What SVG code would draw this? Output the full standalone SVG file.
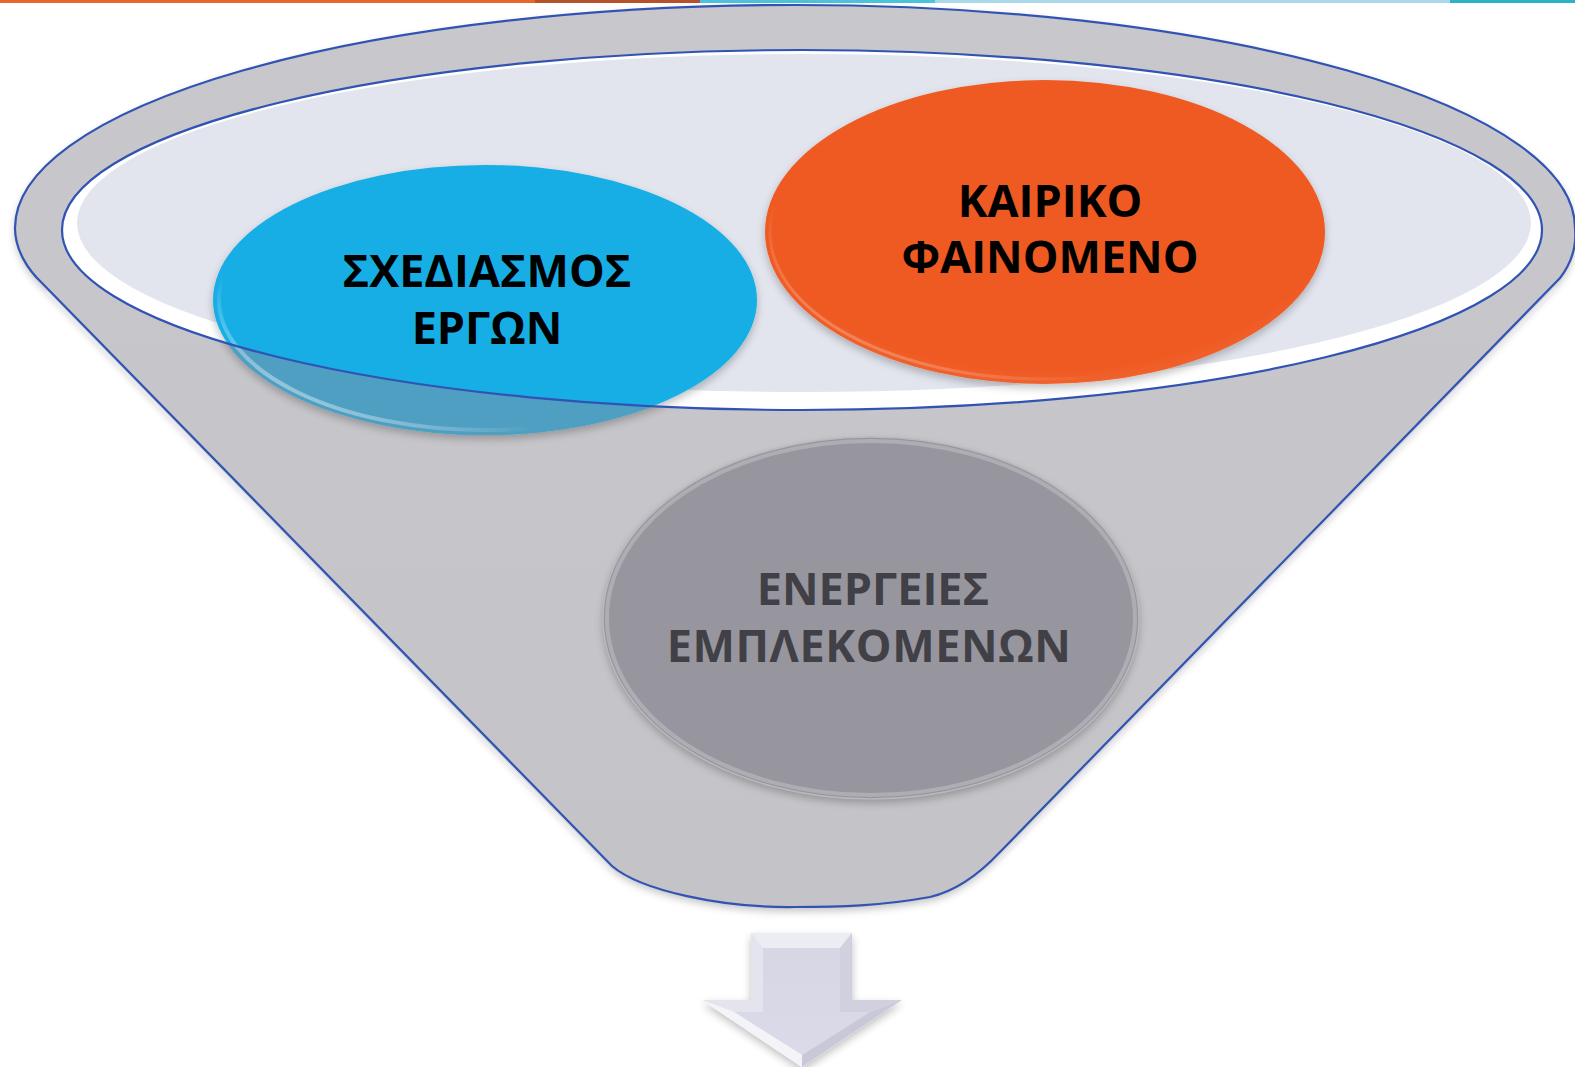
<svg xmlns="http://www.w3.org/2000/svg" width="1575" height="1067" viewBox="0 0 1575 1067">
  <style>
    .lbl { font-family: "Open Sans", "Noto Sans", "Liberation Sans", sans-serif; font-weight: 700; font-size: 45px; text-anchor: middle; }
    .dark { fill: #000000; }
    .grey { fill: #404046; }
    .outline { fill: none; stroke: #3153b3; stroke-width: 2.2; }
  </style>
  <defs>
    <linearGradient id="funnelGrad" x1="0" y1="0" x2="0" y2="1">
      <stop offset="0" stop-color="#c8c8cc"/>
      <stop offset="1" stop-color="#c4c4c8"/>
    </linearGradient>
    <radialGradient id="blueGrad" cx="0.5" cy="0.45" r="0.6">
      <stop offset="0.85" stop-color="#14aee5"/>
      <stop offset="1" stop-color="#2bb6e6"/>
    </radialGradient>
    <radialGradient id="orangeGrad" cx="0.5" cy="0.45" r="0.6">
      <stop offset="0.85" stop-color="#ef5a24"/>
      <stop offset="1" stop-color="#f26d3a"/>
    </radialGradient>
    <linearGradient id="rimLight" x1="0" y1="1" x2="1" y2="0">
      <stop offset="0" stop-color="#ffffff" stop-opacity="0.75"/>
      <stop offset="0.3" stop-color="#ffffff" stop-opacity="0"/>
      <stop offset="0.85" stop-color="#ffffff" stop-opacity="0"/>
      <stop offset="1" stop-color="#ffffff" stop-opacity="0.35"/>
    </linearGradient>
    <linearGradient id="arrowGrad" x1="0" y1="0" x2="0" y2="1">
      <stop offset="0" stop-color="#d6d6e4"/>
      <stop offset="1" stop-color="#dadae8"/>
    </linearGradient>
    <clipPath id="outsideInner">
      <path clip-rule="evenodd" d="M0 0 H1575 V1067 H0 Z M62 230 A740 180 0 1 0 1542 230 A740 180 0 1 0 62 230 Z"/>
    </clipPath>
    <filter id="soft" x="-10%" y="-10%" width="120%" height="130%">
      <feGaussianBlur in="SourceAlpha" stdDeviation="4"/>
      <feOffset dx="0" dy="4" result="b"/>
      <feComponentTransfer><feFuncA type="linear" slope="0.25"/></feComponentTransfer>
      <feMerge><feMergeNode/><feMergeNode in="SourceGraphic"/></feMerge>
    </filter>
  </defs>

  <rect x="0" y="0" width="1575" height="1067" fill="#ffffff"/>

  <!-- top colour bar -->
  <g id="topbar">
    <rect x="0" y="0" width="535" height="3" fill="#e8662a"/>
    <rect x="535" y="0" width="165" height="3" fill="#b4532b"/>
    <rect x="700" y="0" width="235" height="3" fill="#4cc3dc"/>
    <rect x="935" y="0" width="515" height="3" fill="#aad9ec"/>
    <rect x="1450" y="0" width="125" height="3" fill="#2fb1c9"/>
  </g>

  <!-- funnel -->
  <g id="funnel">
    <path filter="url(#soft)" fill="url(#funnelGrad)" d="M15 228 A780 223 0 0 1 1575 228 C1577 248 1570 265 1560 278 L1000 852 C985 868 960 890 930 897 C880 906 840 907 795 907 C720 908 640 890 612 866 L42 283 C28 270 15 250 15 228 Z"/>
    <path fill="none" stroke="#eeeef2" stroke-width="3" opacity="0.8" d="M46 292 L614 874 M1556 288 L998 862"/>
    <path class="outline" d="M15 228 A780 223 0 0 1 1575 228 C1577 248 1570 265 1560 278 L1000 852 C985 868 960 890 930 897 C880 906 840 907 795 907 C720 908 640 890 612 866 L42 283 C28 270 15 250 15 228 Z"/>
    <!-- bowl opening -->
    <ellipse cx="802" cy="230" rx="740" ry="180" fill="#ffffff"/>
    <ellipse cx="804" cy="223" rx="727" ry="169" fill="#e2e5ee"/>
  </g>

  <!-- node: ΣΧΕΔΙΑΣΜΟΣ ΕΡΓΩΝ -->
  <g id="node-sxediasmos">
    <ellipse cx="485" cy="300" rx="272" ry="135" fill="url(#blueGrad)" filter="url(#soft)"/>
    <ellipse cx="485" cy="300" rx="272" ry="135" fill="#4f9fc3" clip-path="url(#outsideInner)"/>
    <ellipse cx="485" cy="300" rx="266" ry="130" fill="none" stroke="url(#rimLight)" stroke-width="4"/>
    <text class="lbl dark" x="487" y="287">ΣΧΕΔΙΑΣΜΟΣ</text>
    <text class="lbl dark" x="487" y="344">ΕΡΓΩΝ</text>
  </g>

  <!-- node: ΚΑΙΡΙΚΟ ΦΑΙΝΟΜΕΝΟ -->
  <g id="node-kairiko">
    <ellipse cx="1045" cy="232" rx="280" ry="152" fill="url(#orangeGrad)" filter="url(#soft)"/>
    <ellipse cx="1045" cy="232" rx="275" ry="147" fill="none" stroke="url(#rimLight)" stroke-width="3" opacity="0.6"/>
    <text class="lbl dark" x="1050" y="217">ΚΑΙΡΙΚΟ</text>
    <text class="lbl dark" x="1050" y="273">ΦΑΙΝΟΜΕΝΟ</text>
  </g>

  <!-- bowl rim outline drawn over nodes -->
  <ellipse class="outline" cx="802" cy="230" rx="740" ry="180"/>

  <!-- node: ΕΝΕΡΓΕΙΕΣ ΕΜΠΛΕΚΟΜΕΝΩΝ -->
  <g id="node-energeies">
    <ellipse cx="871" cy="618" rx="268" ry="181" fill="#97969e" filter="url(#soft)"/>
    <ellipse cx="871" cy="618" rx="264" ry="177" fill="none" stroke="#aeadb4" stroke-width="4"/>
    <ellipse cx="871" cy="618" rx="268" ry="181" fill="none" stroke="#b8b8bd" stroke-width="1.5"/>
    <text class="lbl grey" x="873" y="605">ΕΝΕΡΓΕΙΕΣ</text>
    <text class="lbl grey" x="869" y="662" letter-spacing="0.6">ΕΜΠΛΕΚΟΜΕΝΩΝ</text>
  </g>

  <!-- connectors -->
  <g id="connectors">
    <polygon points="751,933 852,933 852,1000 902,1000 802,1067 702,1000 751,1000" fill="#ececf3" filter="url(#soft)"/>
    <polygon points="763,948 840,948 840,1012 870,1012 802,1055 734,1012 763,1012" fill="url(#arrowGrad)"/>
    <polygon points="751,933 763,948 763,1012 734,1012 702,1000 751,1000" fill="#e4e4ee"/>
    <polygon points="852,933 840,948 840,1012 870,1012 902,1000 852,1000" fill="#d0d0de"/>
    <polygon points="702,1000 734,1012 802,1055 802,1067" fill="#f4f4f8"/>
    <polygon points="902,1000 870,1012 802,1055 802,1067" fill="#c8c8d8"/>
  </g>
</svg>
